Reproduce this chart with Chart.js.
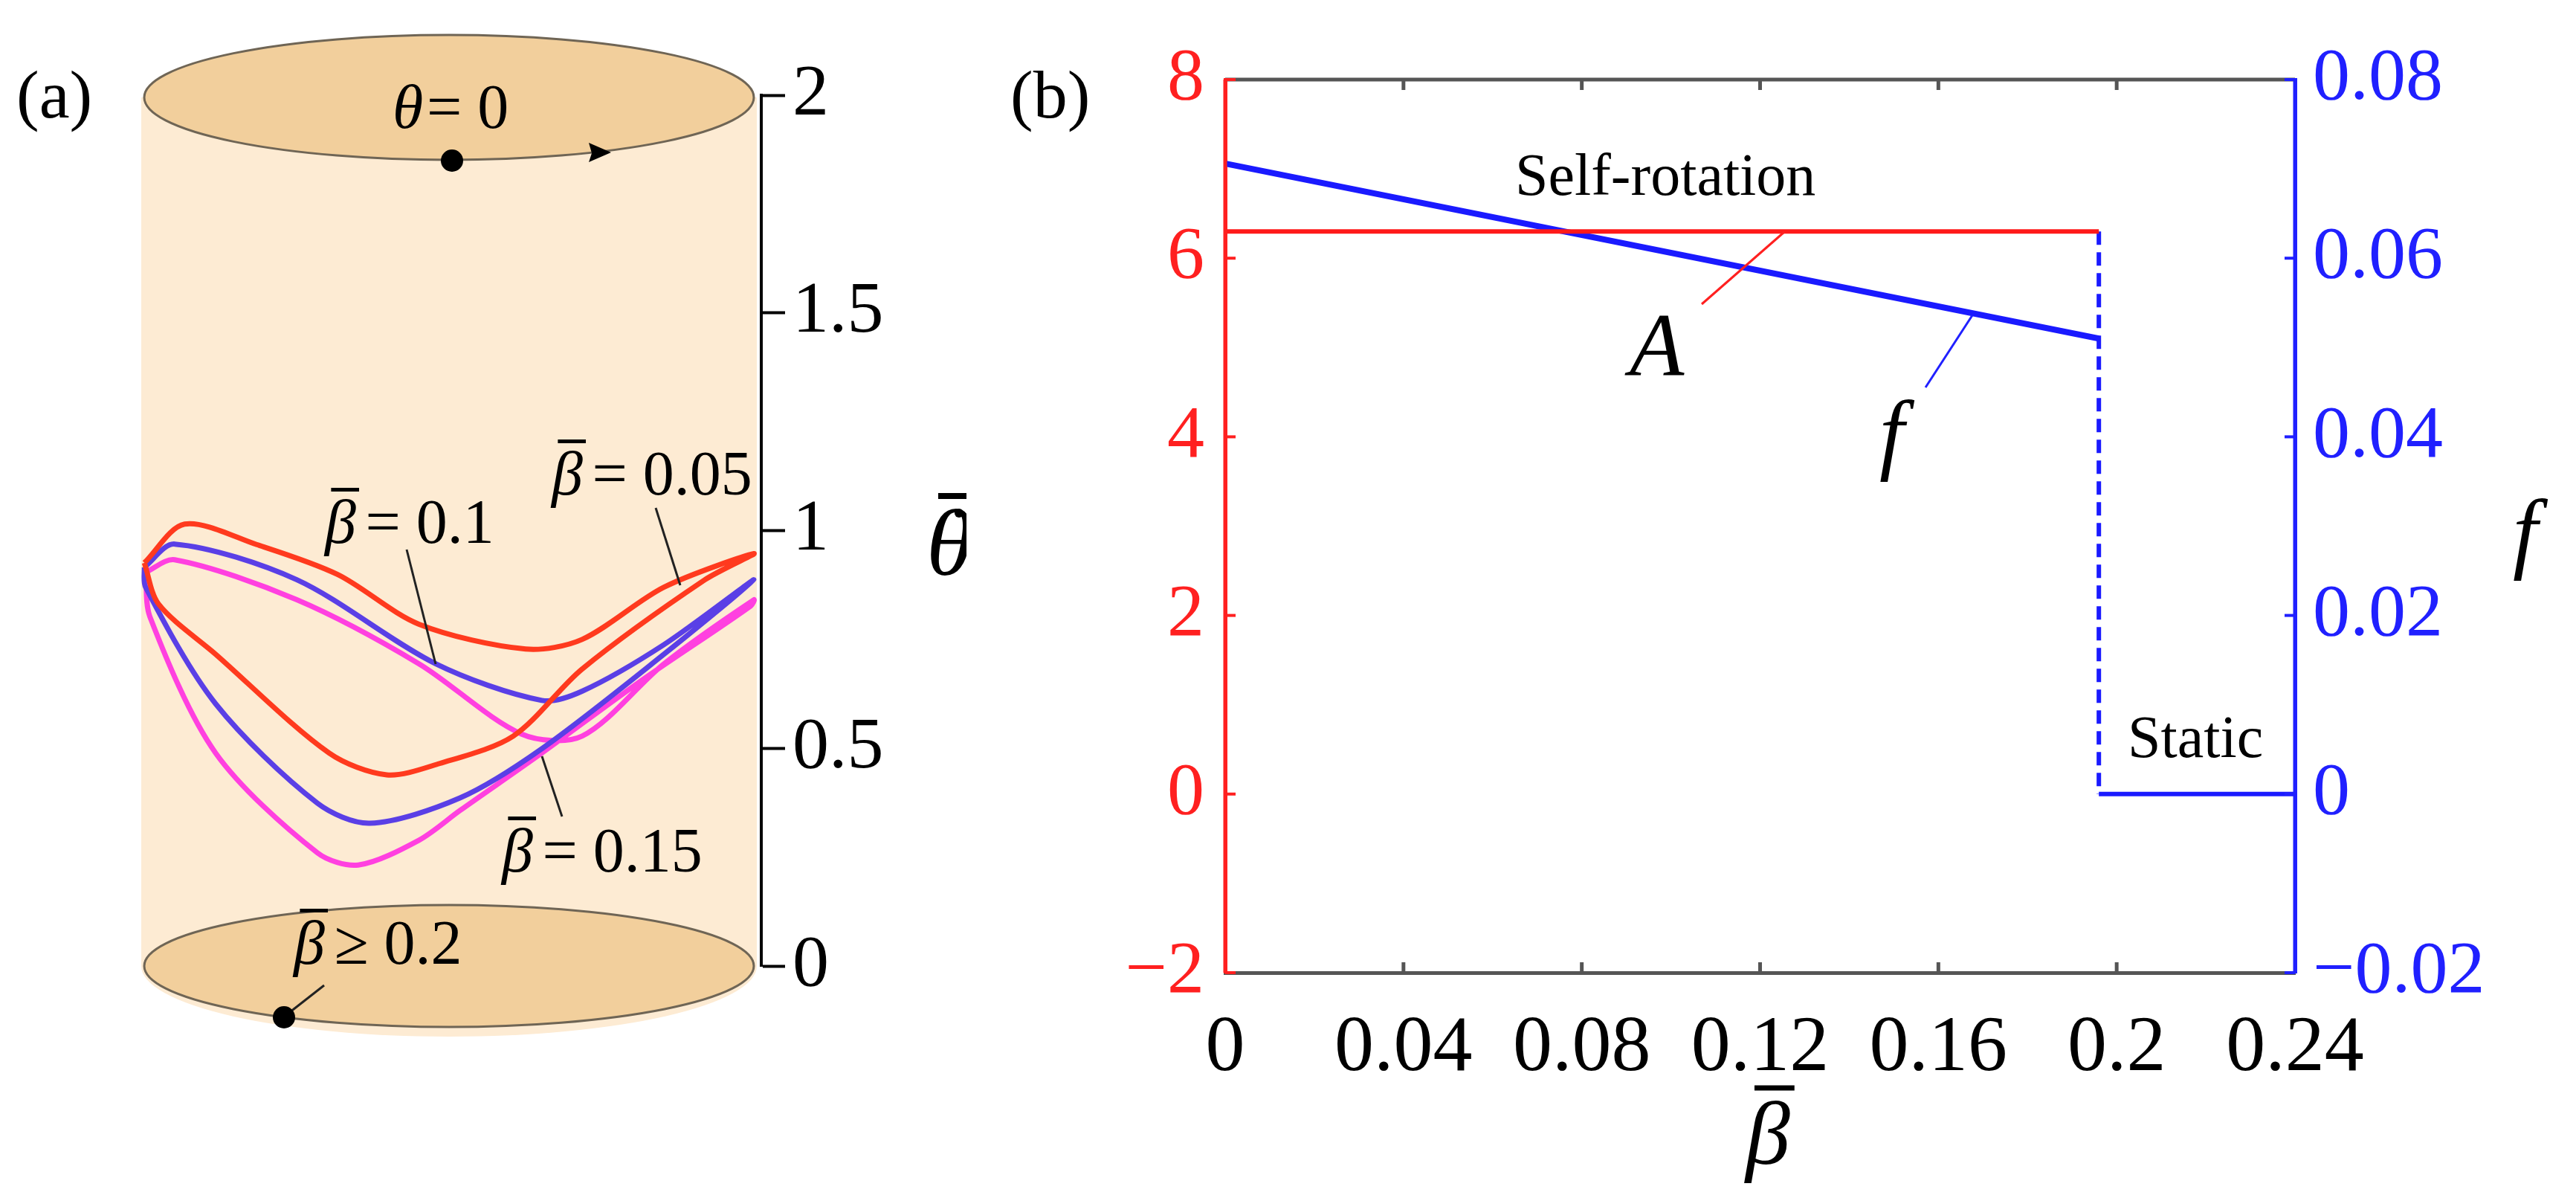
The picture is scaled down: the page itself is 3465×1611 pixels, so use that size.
<!DOCTYPE html>
<html><head><meta charset="utf-8">
<script src="https://cdn.jsdelivr.net/npm/chart.js@4"></script>
<style>html,body{margin:0;padding:0;background:#fff;width:3465px;height:1611px;overflow:hidden;font-family:"Liberation Serif",serif}
canvas{position:absolute;top:0}</style></head>
<body>
<canvas id="ca" width="1300" height="1611" style="left:0;width:1300px;height:1611px"></canvas>
<canvas id="cb" width="2165" height="1611" style="left:1300px;width:2165px;height:1611px"></canvas>
<script>
// ---- Panel (a): trajectories on cylinder (x = position across cylinder, y = theta-dot) ----
const loop005X = [0.005,0.070,0.186,0.317,0.448,0.620,0.711,0.843,0.988,0.909,0.711,0.600,0.481,0.396,0.303,0.120,0.028,0.005];
const loop005Y = [0.926,1.015,0.968,0.899,0.785,0.728,0.750,0.870,0.947,0.887,0.682,0.528,0.465,0.439,0.489,0.716,0.831,0.926];
const loop01X  = [0.005,0.054,0.251,0.475,0.646,0.711,0.843,0.988,0.843,0.646,0.514,0.369,0.284,0.120,0.007,0.005];
const loop01Y  = [0.916,0.969,0.887,0.694,0.610,0.631,0.738,0.887,0.716,0.499,0.386,0.328,0.374,0.602,0.870,0.916];
const loop015X = [0.007,0.054,0.251,0.448,0.613,0.711,0.843,0.988,0.983,0.811,0.646,0.514,0.448,0.350,0.284,0.120,0.014,0.007];
const loop015Y = [0.904,0.933,0.841,0.694,0.533,0.528,0.694,0.841,0.827,0.660,0.489,0.357,0.289,0.232,0.260,0.489,0.802,0.904];
const thetaTicks = [0,0.5,1,1.5,2];

// ---- Panel (b) ----
const betaTicks = [0,0.04,0.08,0.12,0.16,0.2,0.24];
const aTicks = [-2,0,2,4,6,8];
const fTicks = [-0.02,0,0.02,0.04,0.06,0.08];
const betaSelf = [0,0.196];
const ampA = [6.3,6.3];
const freqF = [0.0706,0.051];
const betaJump = [0.196,0.196];
const ampJump = [6.3,0];
const betaStatic = [0.196,0.24];
const freqStatic = [0,0];

const SERIF = "'Liberation Serif', 'Times New Roman', Times, serif";
const zip = (xs,ys)=>xs.map((x,i)=>({x:x,y:ys[i]}));

function betaLabel(ctx,x,y,rest,size,color){
  ctx.save();
  ctx.fillStyle=color||'#000';ctx.strokeStyle=color||'#000';
  ctx.textBaseline='alphabetic';ctx.textAlign='left';
  ctx.font='italic '+size+'px '+SERIF;
  const w=ctx.measureText('β').width;
  ctx.fillText('β',x,y);
  ctx.lineWidth=size*0.06;
  ctx.beginPath();ctx.moveTo(x+w*0.2,y-size*0.85);ctx.lineTo(x+w*1.1,y-size*0.85);ctx.stroke();
  ctx.font=size+'px '+SERIF;
  ctx.fillText(rest,x+w+size*0.15,y);
  ctx.restore();
}
function line(ctx,x1,y1,x2,y2,c,w){ctx.save();ctx.strokeStyle=c;ctx.lineWidth=w;ctx.beginPath();ctx.moveTo(x1,y1);ctx.lineTo(x2,y2);ctx.stroke();ctx.restore();}
function dot(ctx,x,y,r){ctx.save();ctx.fillStyle='#000';ctx.beginPath();ctx.arc(x,y,r,0,Math.PI*2);ctx.fill();ctx.restore();}

const cylPlugin = {
  id:'cyl',
  beforeDraw(chart){
    const ctx=chart.ctx;
    const L=190,R=1018,cx=(L+R)/2,rx=(R-L)/2;
    const yTop=chart.scales.y.getPixelForValue(2)+3, yBot=chart.scales.y.getPixelForValue(0);
    ctx.save();
    ctx.fillStyle='#fdebd3';
    ctx.beginPath();
    ctx.moveTo(L,yTop);ctx.lineTo(R,yTop);ctx.lineTo(R,yBot);
    ctx.ellipse(cx,yBot,rx,95,0,0,Math.PI,false);
    ctx.closePath();ctx.fill();
    ctx.strokeStyle='#6f6555';ctx.lineWidth=3;
    ctx.fillStyle='#f2cf9c';
    ctx.beginPath();ctx.ellipse(cx,yTop,rx-4,84,0,0,Math.PI*2);ctx.fill();ctx.stroke();
    ctx.beginPath();ctx.ellipse(cx,yBot,rx-4,82,0,0,Math.PI*2);ctx.fill();ctx.stroke();
    ctx.restore();
  },
  afterDraw(chart){
    const ctx=chart.ctx;
    ctx.save();
    ctx.fillStyle='#000';ctx.textBaseline='alphabetic';ctx.textAlign='left';
    ctx.font='92px '+SERIF;ctx.fillText('(a)',22,158);
    ctx.font='italic 84px '+SERIF;ctx.fillText('θ',528,172);
    ctx.font='84px '+SERIF;ctx.fillText('= 0',574,172);
    dot(ctx,608,216,15);
    ctx.beginPath();ctx.moveTo(822,205);ctx.lineTo(792,192);ctx.lineTo(796,206);ctx.lineTo(792,218);ctx.closePath();ctx.fill();
    betaLabel(ctx,437,730,'= 0.1',84);
    line(ctx,547,739,586,893,'#222',3);
    betaLabel(ctx,742,665,'= 0.05',84);
    line(ctx,882,683,915,787,'#222',3);
    betaLabel(ctx,675,1172,'= 0.15',84);
    line(ctx,756,1098,729,1017,'#222',3);
    betaLabel(ctx,395,1296,'≥ 0.2',84);
    line(ctx,390,1361,436,1325,'#222',3);
    dot(ctx,382,1368,15);
    ctx.font='italic 128px '+SERIF;
    ctx.fillText('θ',1246,773);
    ctx.fillText('A',1366,764);
    dot(ctx,1290,690,6);
    line(ctx,1262,667,1314,667,'#000',8);
    ctx.restore();
  }
};

const decoB = {
  id:'decoB',
  afterDraw(chart){
    const ctx=chart.ctx, xs=chart.scales.x, ys=chart.scales.y, yf=chart.scales.y1;
    const a=chart.chartArea, o=1300;
    ctx.save();
    line(ctx,a.left,a.top,a.right,a.top,'#555',5);
    betaTicks.forEach(v=>{const p=xs.getPixelForValue(v);
      if(v>0&&v<0.24){line(ctx,p,a.bottom,p,a.bottom-14,'#555',5);line(ctx,p,a.top,p,a.top+14,'#555',5);}});
    aTicks.forEach(v=>{const p=ys.getPixelForValue(v);line(ctx,a.left,p,a.left+14,p,'#ff2020',4);});
    fTicks.forEach(v=>{const p=yf.getPixelForValue(v);line(ctx,a.right,p,a.right-14,p,'#2020ff',4);});
    line(ctx,a.left,a.top,a.left,a.bottom,'#ff2020',5);
    line(ctx,a.right,a.top,a.right,a.bottom,'#2020ff',5);
    ctx.fillStyle='#000';ctx.textBaseline='alphabetic';ctx.textAlign='left';
    ctx.font='92px '+SERIF;ctx.fillText('(b)',1359-o,158);
    ctx.font='80px '+SERIF;
    ctx.fillText('Self-rotation',2038-o,262);
    ctx.fillText('Static',2862-o,1018);
    ctx.font='italic 120px '+SERIF;
    ctx.fillText('A',2192-o,505);
    ctx.fillText('f',2528-o,622);
    ctx.fillText('f',3380-o,755);
    line(ctx,2289-o,409,2400-o,312,'#ff2020',3);
    line(ctx,2590-o,521,2653-o,424,'#2020ff',3);
    betaLabel(ctx,2348-o,1565,'',120);
    ctx.restore();
  }
};

function build(){
new Chart(document.getElementById('ca'),{
  type:'line',
  data:{datasets:[
    {data:zip(loop005X,loop005Y),borderColor:'#ff3a1e',borderWidth:7},
    {data:zip(loop01X,loop01Y),borderColor:'#5a3fe6',borderWidth:7},
    {data:zip(loop015X,loop015Y),borderColor:'#ff40e0',borderWidth:7}
  ]},
  options:{
    responsive:false,animation:false,devicePixelRatio:1,
    elements:{point:{radius:0},line:{tension:0.3,fill:false}},
    plugins:{legend:{display:false},tooltip:{enabled:false}},
    layout:{padding:{left:190,top:128,bottom:312,right:0}},
    scales:{
      x:{type:'linear',min:0,max:1,display:false},
      y:{type:'linear',position:'right',min:0,max:2,
        afterFit(s){s.width=1300-1024;},
        afterBuildTicks(s){s.ticks=thetaTicks.map(v=>({value:v}));},
        ticks:{color:'#000',font:{family:SERIF,size:98},padding:10,callback:v=>String(v)},
        grid:{drawOnChartArea:false,drawTicks:true,tickLength:32,tickColor:'#000',tickWidth:4},
        border:{color:'#000',width:4}
      }
    }
  },
  plugins:[cylPlugin]
});
new Chart(document.getElementById('cb'),{
  type:'line',
  data:{datasets:[
    {data:zip(betaSelf,ampA),borderColor:'#ff1a1a',borderWidth:6,yAxisID:'y'},
    {data:zip(betaSelf,freqF),borderColor:'#1a1aff',borderWidth:8,yAxisID:'y1'},
    {data:zip(betaJump,ampJump),borderColor:'#1a1aff',borderWidth:6,borderDash:[18,10],yAxisID:'y'},
    {data:zip(betaStatic,freqStatic),borderColor:'#1a1aff',borderWidth:6,yAxisID:'y1'}
  ]},
  options:{
    responsive:false,animation:false,devicePixelRatio:1,
    elements:{point:{radius:0},line:{tension:0,fill:false}},
    plugins:{legend:{display:false},tooltip:{enabled:false}},
    layout:{padding:{left:0,top:107,bottom:0,right:0}},
    scales:{
      x:{type:'linear',min:0,max:0.24,
        afterFit(s){s.height=1611-1308;},
        afterBuildTicks(s){s.ticks=betaTicks.map(v=>({value:v}));},
        ticks:{color:'#000',font:{family:SERIF,size:106},padding:40,maxRotation:0,autoSkip:false,callback:v=>String(+v.toFixed(2))},
        grid:{display:false,drawTicks:false},border:{color:'#555',width:5}},
      y:{type:'linear',position:'left',min:-2,max:8,
        afterFit(s){s.width=1648-1300;},
        afterBuildTicks(s){s.ticks=aTicks.map(v=>({value:v}));},
        ticks:{color:'#ff2020',font:{family:SERIF,size:100},padding:28,callback:v=>v<0?'−'+Math.abs(v):String(v)},
        grid:{display:false,drawTicks:false},border:{color:'#ff2020',width:5}},
      y1:{type:'linear',position:'right',min:-0.02,max:0.08,
        afterFit(s){s.width=3465-3087;},
        afterBuildTicks(s){s.ticks=fTicks.map(v=>({value:v}));},
        ticks:{color:'#2020ff',font:{family:SERIF,size:100},padding:24,callback:v=>(v<0?'−':'')+(v===0?'0':Math.abs(v).toFixed(2))},
        grid:{display:false,drawTicks:false},border:{color:'#2020ff',width:5}}
    }
  },
  plugins:[decoB]
});
}
Promise.all([document.fonts.load('100px "Liberation Serif"'),document.fonts.load('italic 100px "Liberation Serif"')]).catch(()=>{}).then(build);
</script></body></html>
